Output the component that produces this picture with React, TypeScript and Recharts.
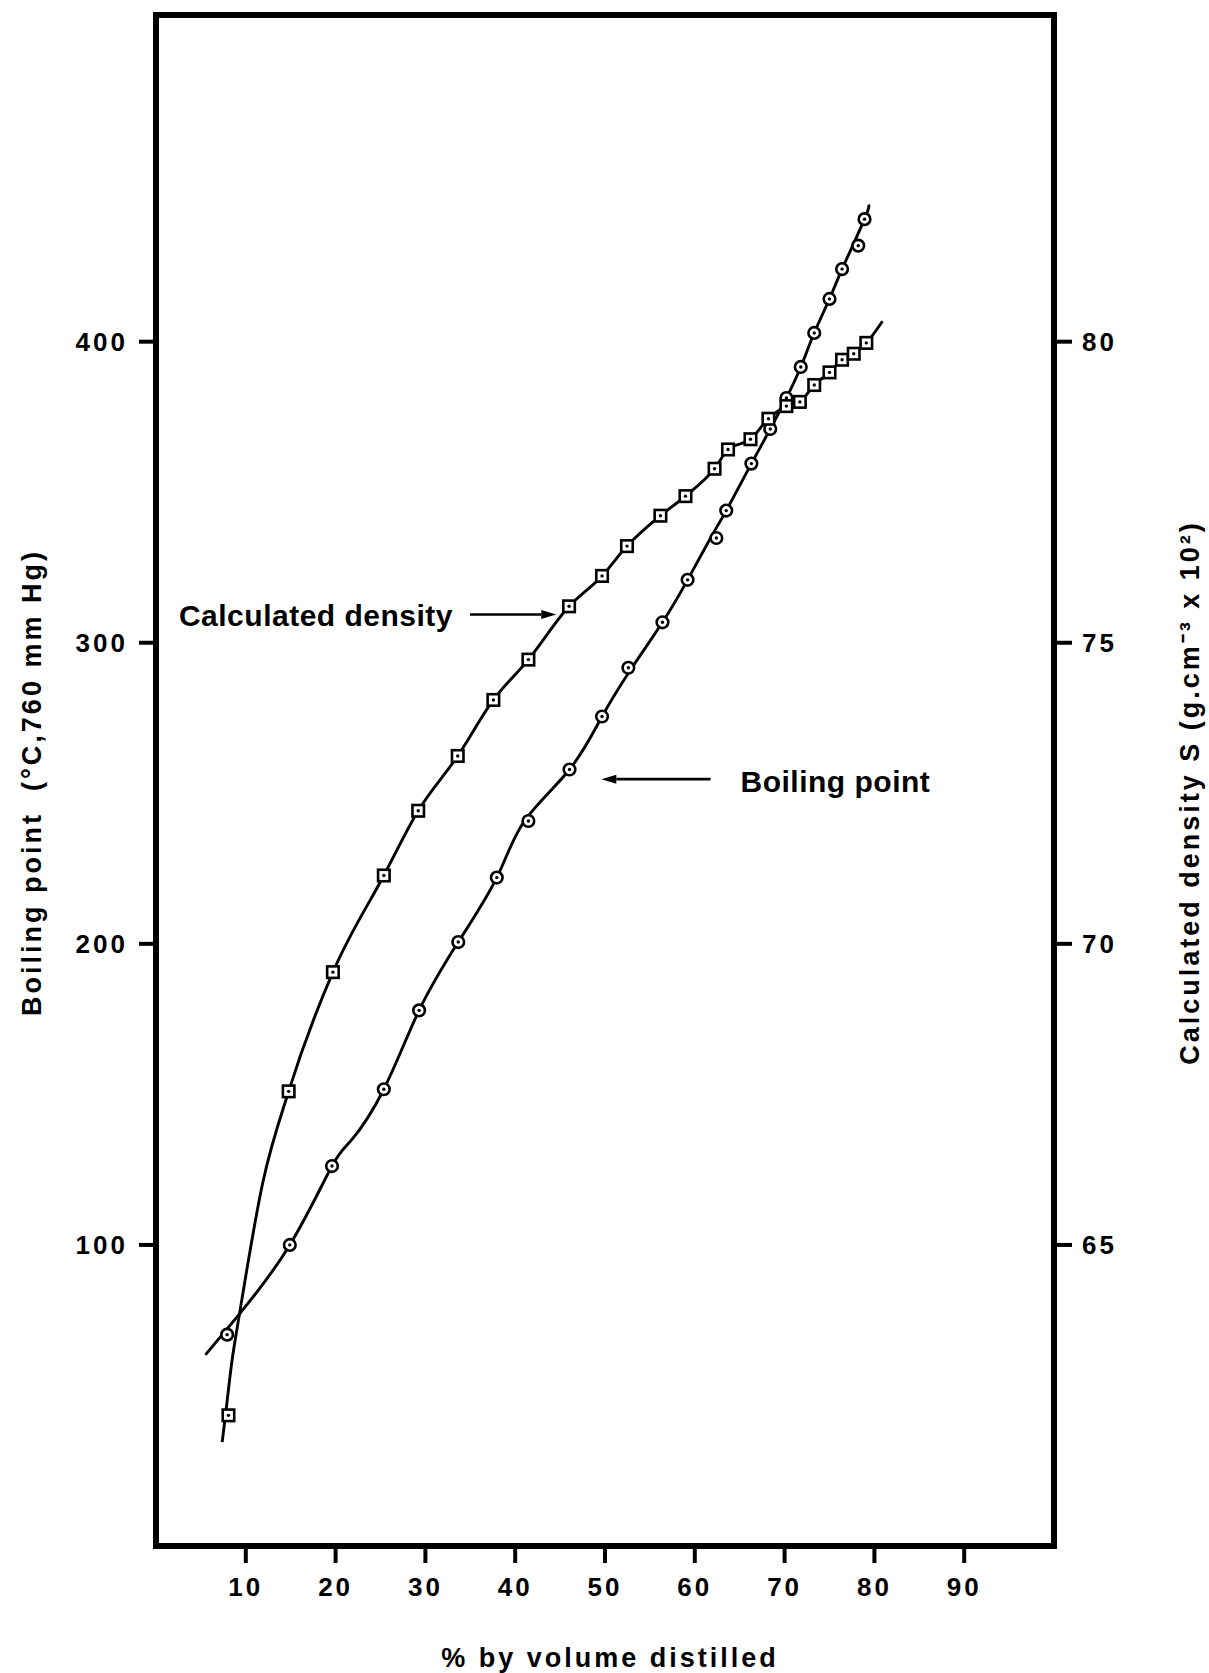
import React from 'react';
import { ComposedChart, Line, XAxis, YAxis, ReferenceLine, Label } from 'recharts';

// ---------- axes ----------
const xTicks = [10, 20, 30, 40, 50, 60, 70, 80, 90];
const bpTicks = [100, 200, 300, 400];
const densTicks = [65, 70, 75, 80];
const xDomain = [0, 100];
const bpDomain = [0, 508.5];
const densDomain = [60, 85.425];

// ---------- boiling point (circles), % distilled vs °C ----------
const bpPct = [7.92, 14.9, 19.6, 25.37, 29.3, 33.66, 37.95, 41.47, 46.05, 49.67, 52.6, 56.4, 59.2, 62.4, 63.5, 66.3, 68.4, 70.2, 71.8, 73.3, 75.0, 76.4, 78.2, 78.9];
const bpTemp = [70.2, 100, 126.2, 151.7, 177.9, 200.6, 222, 240.8, 257.9, 275.5, 291.7, 306.8, 320.9, 334.8, 343.9, 359.5, 371, 381.3, 391.6, 402.9, 414.2, 424.1, 431.9, 440.7];

// drawn boiling point curve
const bpCurvePct = [5.5, 9.3, 14.9, 19.6, 21.76, 25.37, 29.3, 33.66, 37.95, 41.03, 46.05, 49.67, 53.0, 56.4, 59.2, 61.75, 63.5, 66.3, 68.4, 70.2, 71.8, 73.3, 75.0, 76.4, 78.9, 79.35];
const bpCurveTemp = [63.5, 77.1, 100, 126.2, 134.8, 151.7, 177.9, 200.6, 222, 240.8, 257.9, 275.5, 291.7, 306.8, 320.9, 334.8, 343.9, 359.5, 371, 381.3, 391.6, 402.9, 414.2, 424.1, 440.7, 445.5];

// ---------- calculated density (squares), S x 10^2 ----------
const densPct = [8.07, 14.77, 19.7, 25.37, 29.2, 33.6, 37.57, 41.47, 46.0, 49.67, 52.45, 56.17, 58.96, 62.2, 63.7, 66.2, 68.2, 70.2, 71.7, 73.3, 75.0, 76.4, 77.7, 79.1];
const densS = [62.17, 67.55, 69.53, 71.135, 72.21, 73.12, 74.05, 74.72, 75.605, 76.11, 76.605, 77.11, 77.435, 77.89, 78.21, 78.38, 78.72, 78.93, 79.0, 79.28, 79.49, 79.7, 79.8, 79.98];

// drawn density curve
const densCurvePct = [7.37, 7.73, 8.44, 9.3, 11.9, 14.77, 19.7, 25.37, 29.2, 33.6, 37.57, 41.47, 46.0, 49.67, 52.45, 56.17, 58.96, 62.2, 63.7, 66.2, 68.2, 70.2, 71.7, 73.3, 75.0, 76.4, 77.7, 79.1, 80.9];
const densCurveS = [61.725, 62.165, 63.05, 63.855, 66.04, 67.55, 69.53, 71.135, 72.21, 73.12, 74.05, 74.72, 75.605, 76.11, 76.605, 77.11, 77.435, 77.89, 78.21, 78.38, 78.72, 78.93, 79.0, 79.28, 79.49, 79.7, 79.8, 79.98, 80.34];

// ---------- annotations (data coordinates on left axis) ----------
const densArrowTail = { x: 34.97, y: 309.4 };
const densArrowTip = { x: 44.57, y: 309.4 };
const bpArrowTail = { x: 61.75, y: 254.7 };
const bpArrowTip = { x: 49.59, y: 254.7 };

const toRows = (xs: number[], ys: number[]) => xs.map((x, i) => ({ x, y: ys[i] }));
const bpPoints = toRows(bpPct, bpTemp);
const bpCurve = toRows(bpCurvePct, bpCurveTemp);
const densPoints = toRows(densPct, densS);
const densCurve = toRows(densCurvePct, densCurveS);

const FONT = '"Liberation Sans", Arial, Helvetica, sans-serif';
const INK = '#000';
const TICK_FS = 26;

const XTick = (p: any) => (
  <text x={p.x} y={p.y + TICK_FS * 0.716} textAnchor="middle" fontFamily={FONT} fontWeight="bold"
    fontSize={TICK_FS} fill={INK} style={{ letterSpacing: 3 }}>{p.payload.value}</text>
);
const LeftTick = (p: any) => (
  <text x={p.x} y={p.y + TICK_FS * 0.358} textAnchor="end" fontFamily={FONT} fontWeight="bold"
    fontSize={TICK_FS} fill={INK} style={{ letterSpacing: 3 }}>{p.payload.value}</text>
);
const RightTick = (p: any) => (
  <text x={p.x} y={p.y + TICK_FS * 0.358} textAnchor="start" fontFamily={FONT} fontWeight="bold"
    fontSize={TICK_FS} fill={INK} style={{ letterSpacing: 3 }}>{p.payload.value}</text>
);

const TITLE_FS = 27;
const titleStyle = { letterSpacing: 3 };

const XTitle = (props: any) => {
  const vb = props.viewBox;
  return (
    <text x={vb.x + vb.width / 2 + 5} y={vb.y + 121} textAnchor="middle" fontFamily={FONT} fontWeight="bold"
      fontSize={TITLE_FS} fill={INK} style={titleStyle}>% by volume distilled</text>
  );
};
const LeftTitle = (props: any) => {
  const vb = props.viewBox;
  const cx = vb.x + 31;
  const cy = vb.y + vb.height / 2 + 2;
  return (
    <text x={cx} y={cy + TITLE_FS * 0.358} transform={`rotate(-90, ${cx}, ${cy})`} textAnchor="middle"
      fontFamily={FONT} fontWeight="bold" fontSize={TITLE_FS} fill={INK} style={titleStyle}>
      Boiling point {'\u00a0'}(°C,760 mm Hg)
    </text>
  );
};
const RightTitle = (props: any) => {
  const vb = props.viewBox;
  const cx = vb.x + 135;
  const cy = vb.y + vb.height / 2 + 12;
  return (
    <text x={cx} y={cy + TITLE_FS * 0.358} transform={`rotate(-90, ${cx}, ${cy})`} textAnchor="middle"
      fontFamily={FONT} fontWeight="bold" fontSize={TITLE_FS} fill={INK} style={titleStyle}>
      Calculated density S (g.cm⁻³ x 10²)
    </text>
  );
};

const CircleMark = (p: any) => {
  if (p.cx == null || p.cy == null) return <g key={`c-${p.index}`} />;
  return (
    <g key={`c-${p.index}`}>
      <circle cx={p.cx} cy={p.cy} r={5.8} fill="#fff" stroke={INK} strokeWidth={2.6} />
      <circle cx={p.cx} cy={p.cy} r={1.7} fill={INK} />
    </g>
  );
};
const SquareMark = (p: any) => {
  if (p.cx == null || p.cy == null) return <g key={`s-${p.index}`} />;
  const s = 11.5;
  return (
    <g key={`s-${p.index}`}>
      <rect x={p.cx - s / 2} y={p.cy - s / 2} width={s} height={s} fill="#fff" stroke={INK} strokeWidth={2.6} />
      <circle cx={p.cx} cy={p.cy} r={1.7} fill={INK} />
    </g>
  );
};

const ANNO_FS = 30;
const makeArrow = (text: string, gap: number, baseDy: number) => (p: any) => {
  const { x1, y1, x2, y2 } = p;
  const dir = x2 > x1 ? 1 : -1;
  const headLen = 15;
  const headHalf = 4.5;
  const bx = x2 - dir * headLen;
  return (
    <g>
      <line x1={x1} y1={y1} x2={bx} y2={y2} stroke={INK} strokeWidth={2.6} />
      <polygon points={`${x2},${y2} ${bx},${y2 - headHalf} ${bx},${y2 + headHalf}`} fill={INK} />
      <text x={x1 - dir * gap} y={y1 + baseDy} textAnchor={dir > 0 ? 'end' : 'start'} fontFamily={FONT}
        fontWeight="bold" fontSize={ANNO_FS} fill={INK} style={{ letterSpacing: 0.5 }}>{text}</text>
    </g>
  );
};
const densArrow = makeArrow('Calculated density', 17, 11.7);
const bpArrow = makeArrow('Boiling point', 30, 12.7);

const frameLine = { stroke: INK, strokeWidth: 6, strokeLinecap: 'square' as const };
const tickLineStyle = { stroke: INK, strokeWidth: 4 };

export default function App() {
  return (
    <div style={{ position: 'absolute', left: 0, top: 0, width: 1209, height: 1673, background: '#fff' }}>
      <ComposedChart width={1209} height={1673} margin={{ top: 15, right: 0, bottom: 0, left: 0 }}>
        <XAxis type="number" dataKey="x" domain={xDomain} ticks={xTicks} allowDataOverflow interval={0}
          height={127} tickSize={17} tickMargin={14} axisLine={frameLine} tickLine={tickLineStyle} tick={XTick}>
          <Label content={XTitle} />
        </XAxis>
        <YAxis yAxisId="left" type="number" domain={bpDomain} ticks={bpTicks} allowDataOverflow interval={0}
          width={156} tickSize={17} tickMargin={11} axisLine={frameLine} tickLine={tickLineStyle} tick={LeftTick}>
          <Label content={LeftTitle} />
        </YAxis>
        <YAxis yAxisId="right" orientation="right" type="number" domain={densDomain} ticks={densTicks}
          allowDataOverflow interval={0} width={155} tickSize={18} tickMargin={10} axisLine={frameLine}
          tickLine={tickLineStyle} tick={RightTick}>
          <Label content={RightTitle} />
        </YAxis>

        <ReferenceLine yAxisId="left" y={bpDomain[1]} stroke={INK} strokeWidth={6} strokeLinecap="square" ifOverflow="visible" />

        <Line yAxisId="left" data={bpCurve} dataKey="y" type="natural" stroke={INK} strokeWidth={2.9}
          dot={false} activeDot={false} isAnimationActive={false} />
        <Line yAxisId="right" data={densCurve} dataKey="y" type="monotone" stroke={INK} strokeWidth={2.9}
          dot={false} activeDot={false} isAnimationActive={false} />
        <Line yAxisId="left" data={bpPoints} dataKey="y" stroke="none" dot={CircleMark} activeDot={false}
          isAnimationActive={false} />
        <Line yAxisId="right" data={densPoints} dataKey="y" stroke="none" dot={SquareMark} activeDot={false}
          isAnimationActive={false} />

        <ReferenceLine yAxisId="left" segment={[densArrowTail, densArrowTip]} ifOverflow="visible" shape={densArrow} />
        <ReferenceLine yAxisId="left" segment={[bpArrowTail, bpArrowTip]} ifOverflow="visible" shape={bpArrow} />
      </ComposedChart>
    </div>
  );
}
